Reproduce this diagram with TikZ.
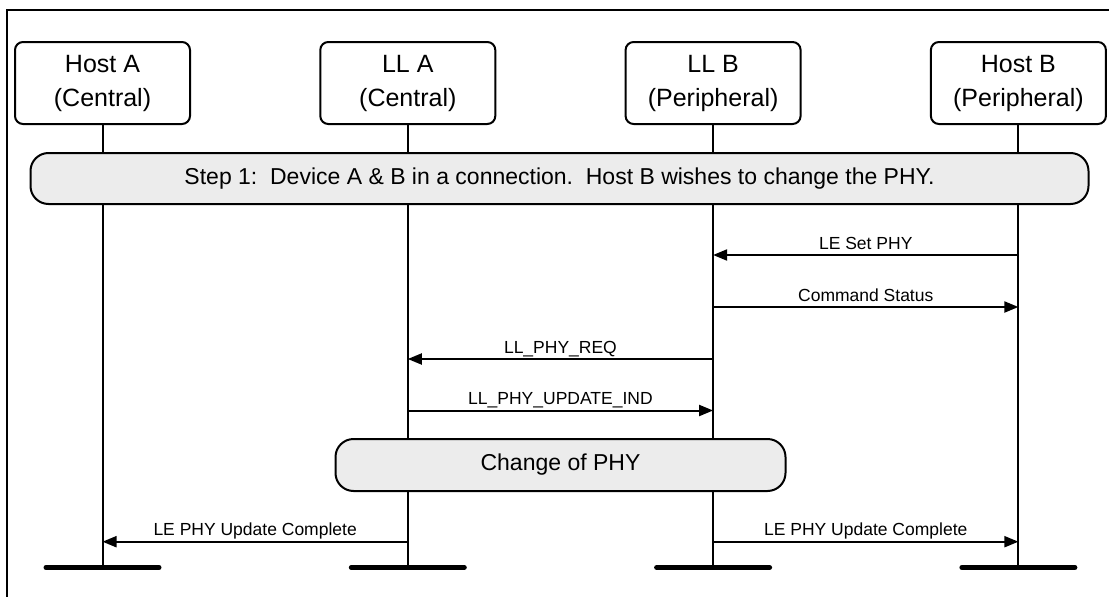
\documentclass[tikz,border=0pt]{standalone}
\usepackage{fontspec}
\setmainfont{Liberation Sans}
\usetikzlibrary{arrows.meta}
\definecolor{bandfill}{RGB}{236,236,236}
\begin{document}
\begin{tikzpicture}[x=1pt,y=-1pt,
  hdr/.style={draw, line width=2pt, rounded corners=8pt, minimum width=175pt,
    minimum height=82pt, align=center, inner sep=0pt,
    font=\fontsize{25}{34}\selectfont},
  band/.style={draw, line width=2pt, rounded corners=18pt, fill=bandfill,
    inner sep=0pt, font=\fontsize{23}{28}\selectfont},
  life/.style={line width=2pt},
  msg/.style={line width=2pt, -{Triangle[length=14pt,width=11pt]}},
  lbl/.style={font=\fontsize{17.5}{21}\selectfont, anchor=base, yshift=6pt},
  endbar/.style={line width=5pt, line cap=round}]
\useasboundingbox (0,0) rectangle (1109,597);
% frame
\draw[line width=2pt] (1109,10) -- (7,10) -- (7,597);
% headers
\node[hdr] (hA) at (102.5,83) {Host A\\(Central)};
\node[hdr] (lA) at (407.8,83) {LL A\\(Central)};
\node[hdr] (lB) at (713.1,83) {LL B\\(Peripheral)};
\node[hdr] (hB) at (1018.4,83) {Host B\\(Peripheral)};
% lifeline ends
\coordinate (hAe) at (102.5,567.5);
\coordinate (lAe) at (407.8,567.5);
\coordinate (lBe) at (713.1,567.5);
\coordinate (hBe) at (1018.4,567.5);
\draw[life] (hA.south) -- (hAe);
\draw[life] (lA.south) -- (lAe);
\draw[life] (lB.south) -- (lBe);
\draw[life] (hB.south) -- (hBe);
% bands
\node[band, minimum width=1058pt, minimum height=51pt] (step) at (559.5,178.5)
  {Step 1:\ \ Device A \& B in a connection.\ \ Host B wishes to change the PHY.};
\node[band, minimum width=450pt, minimum height=52pt] (chg) at (560.5,465) {Change of PHY};
% message points
\coordinate (m1a) at (1018.4,255);  \coordinate (m1b) at (713.1,255);
\coordinate (m2a) at (713.1,307);   \coordinate (m2b) at (1018.4,307);
\coordinate (m3a) at (713.1,359);   \coordinate (m3b) at (407.8,359);
\coordinate (m4a) at (407.8,410.5); \coordinate (m4b) at (713.1,410.5);
\coordinate (m5a) at (407.8,541.7); \coordinate (m5b) at (102.5,541.7);
\coordinate (m6a) at (713.1,541.7); \coordinate (m6b) at (1018.4,541.7);
\draw[msg] (m1a) -- (m1b) node[lbl, midway] {LE Set PHY};
\draw[msg] (m2a) -- (m2b) node[lbl, midway] {Command Status};
\draw[msg] (m3a) -- (m3b) node[lbl, midway] {LL\_PHY\_REQ};
\draw[msg] (m4a) -- (m4b) node[lbl, midway] {LL\_PHY\_UPDATE\_IND};
\draw[msg] (m5a) -- (m5b) node[lbl, midway] {LE PHY Update Complete};
\draw[msg] (m6a) -- (m6b) node[lbl, midway] {LE PHY Update Complete};
% end bars
\coordinate (hAl) at (46,567.5);  \coordinate (hAr) at (159,567.5);
\coordinate (lAl) at (351.3,567.5); \coordinate (lAr) at (464.3,567.5);
\coordinate (lBl) at (656.6,567.5); \coordinate (lBr) at (769.6,567.5);
\coordinate (hBl) at (961.9,567.5); \coordinate (hBr) at (1074.9,567.5);
\draw[endbar] (hAl) -- (hAr);
\draw[endbar] (lAl) -- (lAr);
\draw[endbar] (lBl) -- (lBr);
\draw[endbar] (hBl) -- (hBr);
\end{tikzpicture}
\end{document}
